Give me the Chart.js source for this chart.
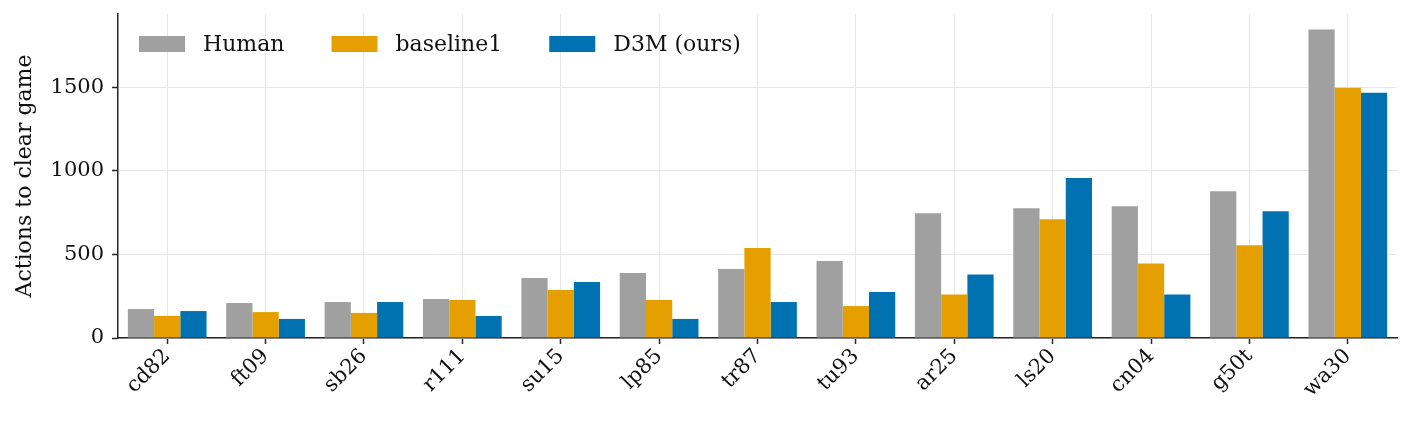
<!DOCTYPE html>
<html>
<head>
<meta charset="utf-8">
<script src="https://cdn.jsdelivr.net/npm/chart.js@4/dist/chart.umd.min.js"></script>
<style>
    html, body { margin: 0; padding: 0; background: #fff; }
    #wrap { width: 1411px; height: 427px; }
</style>
</head>
<body>
<div id="wrap"><canvas id="chart" width="1411" height="427"></canvas></div>
<script>
// Actions to clear each game

const games = ['cd82', 'ft09', 'sb26', 'r111', 'su15', 'lp85', 'tr87', 'tu93', 'ar25', 'ls20', 'cn04', 'g50t', 'wa30'];
const human = [173, 209, 215, 233, 359, 389, 413, 460, 746, 776, 788, 878, 1844];
const baseline1 = [132, 155, 150, 227, 287, 227, 538, 191, 260, 710, 446, 554, 1496];
const d3m = [161, 114, 215, 132, 335, 114, 215, 275, 380, 956, 260, 758, 1466];
const yTicks = [0, 500, 1000, 1500];

const serif = "'DejaVu Serif', serif";
const axisColor = '#262626';
const gridColor = '#e8e8e8';

// legend drawn inside the plot, in one row (matplotlib style)
const inlineLegend = {
    id: 'inlineLegend',
    afterDraw(chart) {
        const c = chart.ctx;
        const area = chart.chartArea;
        let x = area.left + 21;
        const y = area.top + 30;
        c.save();
        c.font = '22px ' + serif;
        c.textBaseline = 'middle';
        chart.data.datasets.forEach(ds => {
            c.fillStyle = ds.backgroundColor;
            c.fillRect(x, y - 8, 46, 16);
            c.fillStyle = '#111';
            c.fillText(ds.label, x + 64, y + 1);
            x += 64 + c.measureText(ds.label).width + 47;
        });
        c.restore();
    }
};

const ctx = document.getElementById('chart').getContext('2d');
new Chart(ctx, {
    type: 'bar',
    data: {
        labels: games,
        datasets: [
            { label: 'Human', data: human, backgroundColor: '#a0a0a0' },
            { label: 'baseline1', data: baseline1, backgroundColor: '#e5a000' },
            { label: 'D3M (ours)', data: d3m, backgroundColor: '#0072b2' }
        ]
    },
    plugins: [inlineLegend],
    options: {
        responsive: false,
        animation: false,
        layout: {
            padding: { left: 0, right: 14, top: 14, bottom: 0 }
        },
        datasets: {
            bar: {
                categoryPercentage: 0.8,
                barPercentage: 1.0,
                borderWidth: 0
            }
        },
        plugins: {
            tooltip: { enabled: false },
            legend: { display: false }
        },
        scales: {
            x: {
                grid: {
                    offset: false,
                    color: gridColor,
                    lineWidth: 1,
                    tickColor: axisColor,
                    tickWidth: 1.5,
                    tickLength: 6
                },
                border: { color: axisColor, width: 1.5 },
                ticks: {
                    color: '#111',
                    font: { family: serif, size: 21 },
                    minRotation: 45,
                    maxRotation: 45,
                    padding: 0
                },
                afterFit: scale => {
                    scale.height = 89;
                    scale.paddingLeft = 0;
                    scale.paddingRight = 0;
                }
            },
            y: {
                min: 0,
                max: 1937,
                grid: {
                    color: gridColor,
                    lineWidth: 1,
                    tickColor: axisColor,
                    tickWidth: 1.5,
                    tickLength: 6
                },
                border: { color: axisColor, width: 1.5 },
                afterBuildTicks: scale => {
                    scale.ticks = yTicks.map(v => ({ value: v }));
                },
                ticks: {
                    color: '#111',
                    font: { family: serif, size: 21 },
                    padding: 8,
                    callback: v => String(v)
                },
                title: {
                    display: true,
                    text: 'Actions to clear game',
                    color: '#111',
                    font: { family: serif, size: 22 },
                    padding: { top: 12, bottom: 4 }
                },
                afterFit: scale => {
                    scale.width = 118;
                    scale.paddingTop = 0;
                    scale.paddingBottom = 0;
                }
            }
        }
    }
});
</script>
</body>
</html>
